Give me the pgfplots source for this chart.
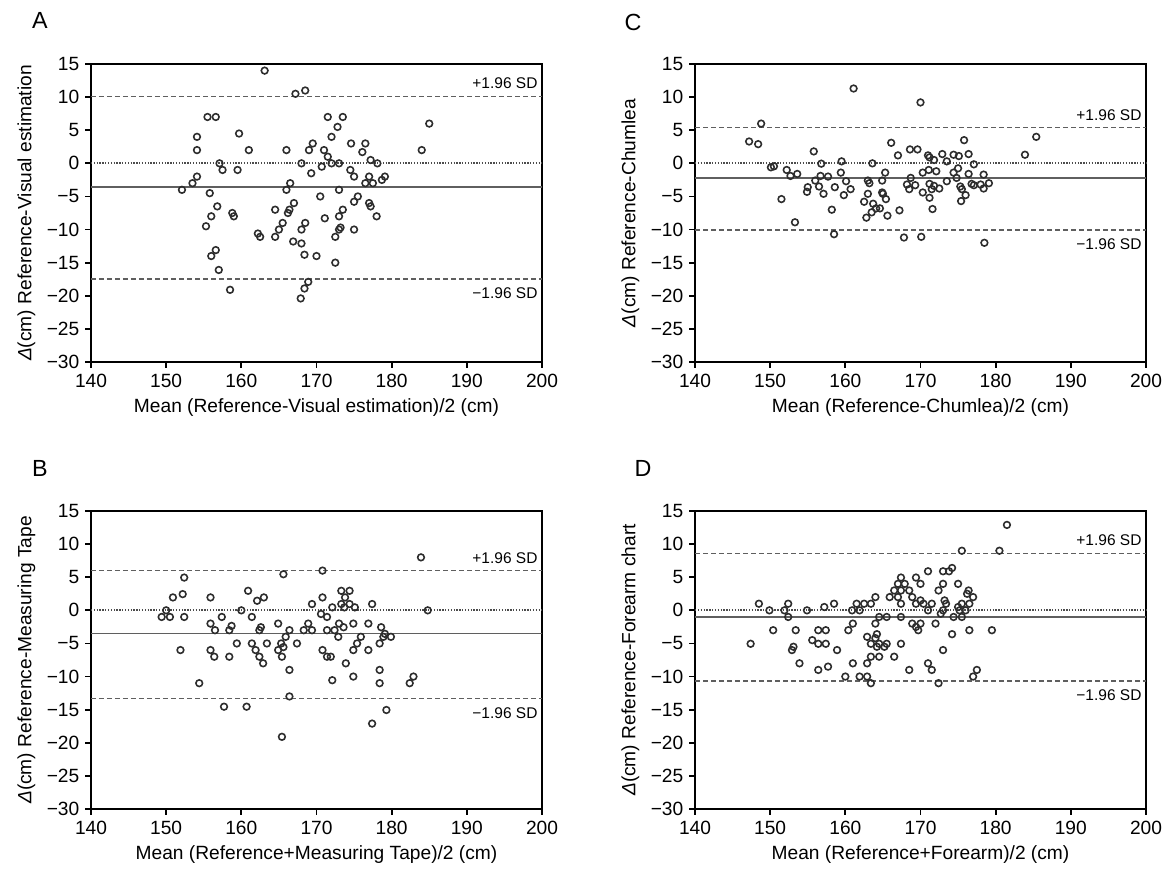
\documentclass[border=0pt]{standalone}
\usepackage{fontspec}
\setmainfont{Liberation Sans}
\usepackage{pgfplots}
\pgfplotsset{compat=1.18}
\definecolor{ptcol}{RGB}{45,45,45}
\definecolor{refcol}{RGB}{95,95,95}

\pgfplotsset{
  bland/.style={
    scale only axis, width=270.6pt, height=178.8pt, anchor=south west,
    xmin=140, xmax=200, ymin=-30, ymax=15,
    xtick={140,150,...,200},
    ytick={-30,-25,...,15},
    yticklabels={−30,−25,−20,−15,−10,−5,0,5,10,15},
    xtick pos=bottom, ytick pos=left, tick align=outside,
    major tick length=3.5pt,
    axis line style={line width=1.3pt},
    tick style={line width=1.1pt, black},
    /pgf/number format/assume math mode=true,
    tick label style={font=\fontsize{11.5}{13}\selectfont},
    label style={font=\fontsize{11.5}{13}\selectfont},
    clip=false,
  },
  pts/.style={only marks, mark=o, mark size=2pt, color=ptcol, mark options={line width=0.95pt}},
  sdline/.style={refcol, line width=1pt, dash pattern=on 2.8pt off 2pt},
  zeroline/.style={refcol!80!black, line width=1.1pt, dash pattern=on 0.8pt off 0.9pt},
  meanline/.style={refcol, line width=0.9pt},
}

% +1.96 SD / -1.96 SD labels at the right end of the limit lines
\newcommand{\sdlabels}[2]{%
  \node[anchor=base east, font=\fontsize{9.3}{11}\selectfont, inner sep=0pt,
        xshift=-2.5pt, yshift=4.5pt] at (axis cs:200,#1) {+1.96 SD};
  \node[anchor=base east, font=\fontsize{9.3}{11}\selectfont, inner sep=0pt,
        xshift=-2.5pt, yshift=-11.8pt] at (axis cs:200,#2) {−1.96 SD};
}
\newcommand{\reflines}[4]{%
  \addplot[sdline] coordinates {(140,#1) (200,#1)};
  \addplot[zeroline] coordinates {(140,0) (200,0)};
  \addplot[meanline] coordinates {(140,#2) (200,#2)};
  \addplot[sdline] coordinates {(140,#3) (200,#3)};
}

\begin{document}
\begin{tikzpicture}
\path (0,0) rectangle (705pt,-526.8pt);

\node[font=\fontsize{14}{16}\selectfont] at (24pt,-12pt) {A};
\node[font=\fontsize{14}{16}\selectfont] at (24pt,-280.8pt) {B};
\node[font=\fontsize{14}{16}\selectfont] at (379.8pt,-13.2pt) {C};
\node[font=\fontsize{14}{16}\selectfont] at (385.8pt,-280.8pt) {D};

% A
\begin{axis}[bland, at={(54.6pt,-217.2pt)},
  xlabel={Mean (Reference-Visual estimation)/2 (cm)},
  ylabel={\textit{Δ}(cm) Reference-Visual estimation}]
\reflines{10.1}{-3.6}{-17.5}{}
\addplot[pts] coordinates {
(163.1,14.0) (167.2,10.5) (168.5,11.0) (155.5,7.0) (156.6,7.0) (171.5,7.0) (173.5,7.0)
(185.0,6.0) (172.8,5.5) (154.1,4.0) (159.7,4.5) (172.0,4.0) (169.5,3.0) (174.6,3.0)
(176.5,3.0) (154.1,2.0) (161.0,2.0) (166.0,2.0) (169.0,2.0) (171.0,2.0) (176.1,1.7)
(184.0,2.0) (171.5,1.0) (177.2,0.5) (157.1,0.0) (168.0,0.0) (172.0,0.0) (173.0,0.0)
(178.1,0.0) (157.5,-1.0) (159.5,-1.0) (170.7,-0.5) (169.3,-1.5) (174.5,-1.0) (175.0,-2.0)
(154.1,-2.0) (153.5,-3.0) (177.0,-2.0) (179.1,-2.0) (178.7,-2.5) (176.5,-3.0) (177.5,-3.0)
(166.5,-3.0) (152.1,-4.0) (166.0,-4.0) (173.0,-4.0) (155.8,-4.5) (170.5,-5.0) (175.5,-5.0)
(175.0,-5.8) (177.0,-6.0) (177.2,-6.5) (167.0,-6.0) (156.8,-6.5) (166.4,-7.0) (166.2,-7.5)
(164.5,-7.0) (173.5,-7.0) (158.8,-7.5) (159.0,-8.0) (156.0,-8.0) (171.1,-8.3) (173.0,-8.0)
(178.0,-8.0) (165.5,-9.0) (168.5,-9.0) (155.3,-9.5) (165.0,-10.0) (168.0,-10.0) (173.0,-10.0)
(173.2,-9.7) (175.0,-10.0) (162.2,-10.6) (162.5,-11.1) (164.5,-11.1) (172.5,-11.1) (166.9,-11.8)
(168.0,-12.1) (156.6,-13.1) (156.0,-14.0) (168.4,-13.8) (170.0,-14.0) (172.5,-15.0) (157.0,-16.1)
(168.9,-17.9) (168.4,-18.9) (158.5,-19.1) (167.9,-20.4)
};
\sdlabels{10.1}{-17.5}
\end{axis}

% C
\begin{axis}[bland, at={(417pt,-217.2pt)},
  xlabel={Mean (Reference-Chumlea)/2 (cm)},
  ylabel={\textit{Δ}(cm) Reference-Chumlea}]
\reflines{5.4}{-2.2}{-10.1}{}
\addplot[pts] coordinates {
(161.1,11.3) (170.0,9.2) (148.8,6.0) (185.4,4.0) (147.2,3.3) (148.4,2.9) (166.1,3.1)
(175.8,3.5) (155.8,1.8) (168.6,2.1) (169.6,2.1) (167.0,1.2) (171.0,1.2) (171.2,0.9)
(172.9,1.4) (174.4,1.3) (175.1,1.1) (176.4,1.4) (183.9,1.3) (171.8,0.5) (173.5,0.3)
(159.5,0.3) (156.8,-0.05) (163.6,0.0) (177.1,-0.15) (150.1,-0.6) (150.5,-0.45) (152.2,-1.0)
(152.7,-1.9) (153.6,-1.6) (156.7,-1.9) (157.7,-2.0) (156.0,-2.6) (159.4,-1.4) (160.1,-2.7)
(165.3,-1.4) (164.9,-2.6) (163.0,-2.6) (163.2,-3.0) (170.3,-1.4) (171.1,-1.0) (172.1,-1.2)
(168.7,-2.2) (174.4,-1.4) (175.0,-0.75) (174.8,-2.2) (176.4,-1.6) (178.4,-1.7) (173.5,-2.7)
(168.2,-3.2) (169.3,-3.3) (171.2,-3.1) (171.8,-3.4) (175.3,-3.5) (176.8,-3.1) (177.1,-3.3)
(178.0,-3.2) (179.1,-3.0) (175.5,-3.9) (178.4,-3.8) (155.0,-3.6) (156.5,-3.5) (158.6,-3.6)
(160.7,-3.9) (168.5,-3.9) (171.5,-3.9) (172.5,-3.8) (154.9,-4.3) (157.1,-4.6) (159.8,-4.8)
(163.0,-4.6) (164.9,-4.4) (165.0,-4.6) (170.3,-4.4) (176.0,-4.8) (151.5,-5.4) (165.4,-5.4)
(171.2,-5.2) (162.5,-5.8) (163.7,-6.1) (175.4,-5.7) (164.1,-6.8) (164.6,-6.8) (171.6,-6.9)
(158.2,-7.0) (167.2,-7.1) (163.5,-7.4) (165.6,-7.9) (162.8,-8.2) (153.3,-8.9) (158.5,-10.7)
(167.8,-11.2) (170.1,-11.1) (178.5,-12.0)
};
\sdlabels{5.4}{-10.1}
\end{axis}

% B
\begin{axis}[bland, at={(54.6pt,-485.4pt)},
  xlabel={Mean (Reference+Measuring Tape)/2 (cm)},
  ylabel={\textit{Δ}(cm) Reference-Measuring Tape}]
\reflines{6.0}{-3.5}{-13.3}{}
\addplot[pts] coordinates {
(183.9,8.0) (170.8,6.0) (165.6,5.45) (152.4,4.95) (152.2,2.45) (150.9,1.95) (155.9,1.95)
(160.9,2.95) (162.1,1.45) (163.0,1.95) (170.8,1.95) (173.3,2.95) (174.4,2.95) (173.8,1.95)
(173.3,0.95) (174.4,0.95) (173.7,0.45) (175.1,0.45) (169.4,0.95) (172.1,0.45) (177.4,0.95)
(184.8,0.0) (150.0,0.0) (160.0,0.0) (149.4,-1.0) (150.5,-1.0) (152.4,-1.0) (157.4,-1.0)
(161.4,-1.0) (170.6,-0.55) (171.4,-1.0) (155.9,-2.0) (156.5,-3.0) (158.7,-2.35) (158.4,-3.0)
(162.6,-2.55) (162.4,-3.0) (164.9,-2.0) (166.4,-3.0) (168.3,-3.0) (168.9,-2.0) (169.4,-3.0)
(171.4,-3.0) (172.4,-3.0) (173.0,-2.0) (173.6,-2.55) (174.9,-2.0) (176.9,-2.0) (172.9,-4.0)
(175.9,-4.0) (178.6,-2.55) (179.1,-3.55) (178.9,-4.0) (179.9,-4.0) (165.9,-4.0) (159.4,-5.0)
(161.4,-5.0) (163.4,-5.0) (165.3,-5.0) (167.4,-5.0) (165.6,-5.55) (175.4,-5.0) (178.4,-5.0)
(151.9,-6.0) (155.9,-6.0) (161.9,-6.0) (164.9,-6.0) (170.8,-6.0) (174.9,-6.0) (176.9,-6.0)
(156.4,-7.0) (158.4,-7.0) (162.4,-7.0) (165.4,-7.0) (171.4,-7.0) (171.9,-7.0) (162.9,-8.0)
(173.9,-8.0) (166.4,-9.0) (178.4,-9.0) (174.9,-10.0) (182.9,-10.0) (172.1,-10.55) (154.4,-11.0)
(178.4,-11.0) (182.4,-11.0) (166.4,-13.0) (157.7,-14.55) (160.7,-14.55) (179.3,-15.05)
(177.4,-17.1) (165.4,-19.1)
};
\sdlabels{6.0}{-13.3}
\end{axis}

% D
\begin{axis}[bland, at={(417pt,-485.4pt)},
  xlabel={Mean (Reference+Forearm)/2 (cm)},
  ylabel={\textit{Δ}(cm) Reference-Forearm chart}]
\reflines{8.6}{-1.0}{-10.7}{}
\addplot[pts] coordinates {
(181.5,12.9) (175.5,9.0) (180.5,9.0) (174.2,6.4) (173.8,5.9) (173.0,5.9) (171.0,5.9)
(167.4,4.95) (169.4,4.95) (167.0,4.0) (167.9,4.0) (170.0,4.0) (173.0,4.0) (175.0,4.0)
(166.5,3.0) (167.4,3.0) (168.5,3.0) (172.4,3.0) (176.4,3.0) (176.2,2.5) (165.9,2.0)
(167.0,2.0) (168.9,2.0) (164.0,2.0) (177.0,2.0) (169.4,1.0) (170.0,1.5) (170.4,1.0)
(171.5,1.0) (173.2,1.5) (173.4,1.0) (175.5,1.0) (176.5,1.0) (148.5,1.0) (152.4,1.0)
(158.5,1.0) (161.5,1.0) (162.5,1.0) (163.4,1.0) (167.4,1.0) (149.9,0.0) (151.9,0.0)
(154.9,0.0) (157.2,0.5) (160.9,0.0) (161.9,0.0) (171.0,0.0) (173.0,0.0) (175.0,0.5)
(175.2,0.0) (176.0,0.0) (152.4,-1.0) (164.5,-1.0) (165.5,-1.0) (167.4,-1.0) (172.7,-0.5)
(174.4,-1.0) (175.5,-1.0) (161.0,-2.0) (164.0,-2.0) (168.9,-2.0) (170.0,-2.0) (172.0,-2.0)
(169.4,-2.5) (169.7,-3.0) (150.4,-3.0) (153.4,-3.0) (156.4,-3.0) (157.4,-3.0) (160.4,-3.0)
(176.5,-3.0) (179.5,-3.0) (174.2,-3.6) (164.2,-3.6) (162.9,-4.0) (164.0,-4.2) (155.6,-4.5)
(147.4,-5.05) (156.4,-5.05) (157.4,-5.05) (163.4,-5.05) (164.5,-5.05) (165.5,-5.05) (167.4,-5.05)
(164.2,-5.5) (165.2,-5.5) (153.1,-5.5) (152.9,-6.0) (158.9,-6.0) (173.0,-6.0) (163.4,-7.0)
(164.5,-7.0) (166.5,-7.0) (153.9,-8.0) (161.0,-8.0) (162.9,-8.0) (171.0,-8.0) (171.5,-9.0)
(156.4,-9.0) (157.7,-8.5) (168.5,-9.0) (177.5,-9.0) (160.0,-10.0) (161.9,-10.0) (162.9,-10.0)
(177.0,-10.0) (163.4,-11.0) (172.4,-11.0)
};
\sdlabels{8.6}{-10.7}
\end{axis}
\end{tikzpicture}
\end{document}
